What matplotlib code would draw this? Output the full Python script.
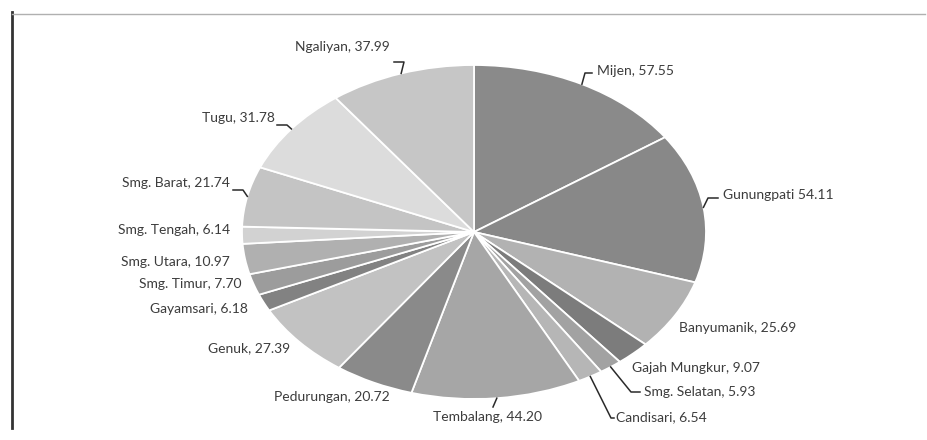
import matplotlib
matplotlib.use("Agg")
import numpy as np
import matplotlib.pyplot as plt

# district areas (km2), clockwise from 12 o'clock
districts = ["Mijen", "Gunungpati", "Banyumanik", "Gajah Mungkur", "Smg. Selatan",
             "Candisari", "Tembalang", "Pedurungan", "Genuk", "Gayamsari",
             "Smg. Timur", "Smg. Utara", "Smg. Tengah", "Smg. Barat", "Tugu", "Ngaliyan"]
areas = [57.55, 54.11, 25.69, 9.07, 5.93, 6.54, 44.20, 20.72, 27.39, 6.18,
         7.70, 10.97, 6.14, 21.74, 31.78, 37.99]
label_texts = ["Mijen, 57.55", "Gunungpati 54.11", "Banyumanik, 25.69",
               "Gajah Mungkur, 9.07", "Smg. Selatan, 5.93", "Candisari, 6.54",
               "Tembalang, 44.20", "Pedurungan, 20.72", "Genuk, 27.39",
               "Gayamsari, 6.18", "Smg. Timur, 7.70", "Smg. Utara, 10.97",
               "Smg. Tengah, 6.14", "Smg. Barat, 21.74", "Tugu, 31.78",
               "Ngaliyan, 37.99"]

grays = ["#8a8a8a", "#888888", "#b2b2b2", "#7c7c7c", "#a2a2a2", "#b6b6b6",
         "#a6a6a6", "#8a8a8a", "#c2c2c2", "#828282", "#9c9c9c", "#b0b0b0",
         "#d2d2d2", "#c4c4c4", "#dcdcdc", "#c6c6c6"]

# layout in image pixels (x from left, y from top)
W, H = 928, 440
CX, CY, RX, RY = 474, 232, 232, 167


def px(x, y):
    return (x - CX) / RX, (CY - y) / RY


# text anchor, horizontal alignment, leader points (from edge outwards)
label_layout = {
    "Mijen": ((597, 71), "left", [(585, 73), (592, 73)]),
    "Gunungpati": ((723, 195), "left", [(708, 198), (718, 198)]),
    "Banyumanik": ((679, 328), "left", None),
    "Gajah Mungkur": ((632, 368), "left", None),
    "Smg. Selatan": ((644, 392), "left", [(631, 392), (640, 392)]),
    "Candisari": ((616, 417), "left", [(611, 418), (614, 418)]),
    "Tembalang": ((488, 417), "center", [(493, 407)]),
    "Pedurungan": ((390, 397), "right", None),
    "Genuk": ((290, 348), "right", None),
    "Gayamsari": ((248, 309), "right", None),
    "Smg. Timur": ((242, 284), "right", None),
    "Smg. Utara": ((230, 262), "right", None),
    "Smg. Tengah": ((230, 230), "right", None),
    "Smg. Barat": ((230, 183), "right", [(243, 190), (233, 190)]),
    "Tugu": ((275, 118), "right", [(287, 125), (277, 125)]),
    "Ngaliyan": ((390, 47), "right", [(404, 62), (394, 62)]),
}

fig = plt.figure(figsize=(W / 100, H / 100), dpi=100)
ax = fig.add_axes([0, 0, 1, 1])

wedges, _ = ax.pie(areas, colors=grays, startangle=90, counterclock=False,
                   wedgeprops=dict(edgecolor="white", linewidth=1.3))
ax.set_aspect("auto")
ax.set_xlim(-CX / RX, (W - CX) / RX)
ax.set_ylim((CY - H) / RY, CY / RY)
ax.axis("off")

for name, text, w in zip(districts, label_texts, wedges):
    (tx, ty), ha, leader = label_layout[name]
    ax.text(*px(tx, ty), text, ha=ha, va="center", fontsize=10,
            family="Lato", color="#3c3c3c")
    if leader:
        mid = np.deg2rad((w.theta1 + w.theta2) / 2)
        xs = [np.cos(mid)] + [px(*p)[0] for p in leader]
        ys = [np.sin(mid)] + [px(*p)[1] for p in leader]
        ax.plot(xs, ys, color="#2a2a2a", lw=1.1, clip_on=False)

# scanned frame edges
ax.plot(*zip(px(12, 12), px(12, 428)), color="#333333", lw=2)
ax.plot(*zip(px(12, 14), px(925, 14)), color="#b0b0b0", lw=1)

fig.savefig("out.png", dpi=100)
